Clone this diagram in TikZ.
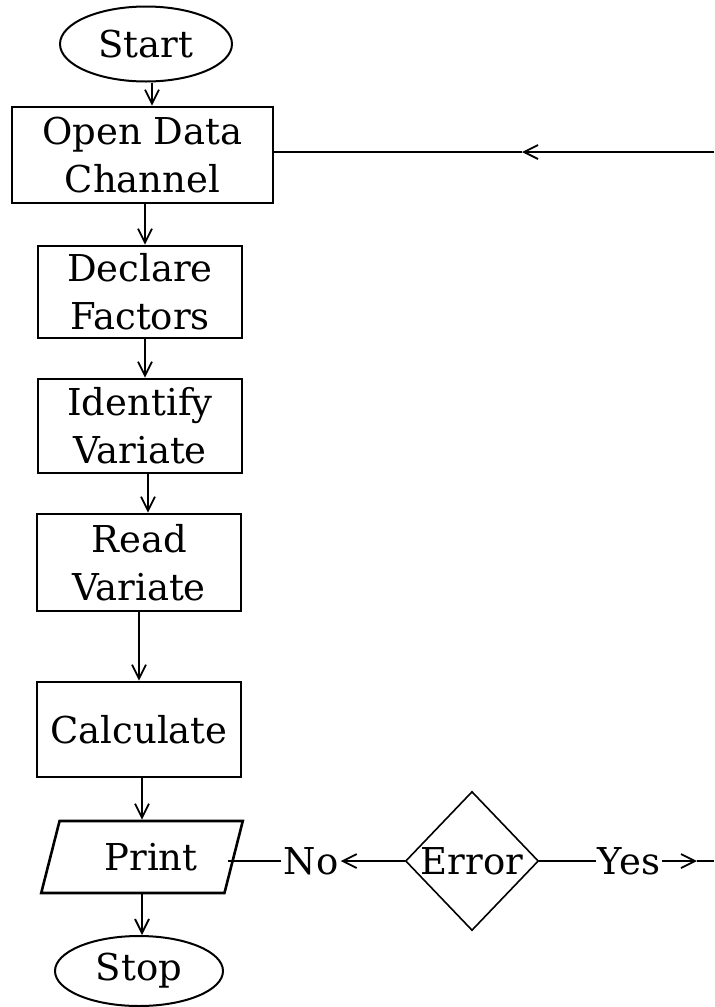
\documentclass[tikz,border=0pt]{standalone}
\usepackage{fontspec}
\setmainfont{DejaVu Serif}
\usetikzlibrary{shapes.geometric,arrows.meta}

\begin{document}
\begin{tikzpicture}[x=0.5pt,y=-0.5pt,
	>={Straight Barb[length=7pt,width=7pt]},
	txt/.style={font=\fontsize{18.5}{24}\selectfont,align=center},
	boxnode/.style={txt,draw,line width=1.3pt,inner sep=0pt},
	termnode/.style={txt,draw,ellipse,line width=1pt,inner sep=0pt},
	flow/.style={->,line width=0.9pt}]
	\useasboundingbox (0,0) rectangle (714,1007);

	% main column
	\node[termnode,minimum width=86pt,minimum height=37.5pt] (start) at (146,44) {Start};
	\node[boxnode,minimum width=130.5pt,minimum height=48pt] (open) at (142.5,155) {Open Data\\Channel};
	\node[boxnode,minimum width=102pt,minimum height=46pt] (declare) at (140,292) {Declare\\Factors};
	\node[boxnode,minimum width=102pt,minimum height=47pt] (identify) at (140,426) {Identify\\Variate};
	\node[boxnode,minimum width=102pt,minimum height=48.5pt] (read) at (139,562.5) {Read\\Variate};
	\node[boxnode,minimum width=102pt,minimum height=47.5pt] (calc) at (139,729.5) {Calculate};
	\node[txt,draw,trapezium,trapezium left angle=66,trapezium right angle=114,trapezium stretches=true,
		line width=1.3pt,inner sep=0pt,minimum width=101pt,minimum height=36pt] (print) at (142,857) {\hspace{9pt}Print};
	\node[termnode,minimum width=84pt,minimum height=35pt] (stop) at (139,971) {Stop};

	% decision
	\node[txt,draw,diamond,line width=0.8pt,inner sep=0pt,minimum width=66.5pt,minimum height=69.5pt] (error) at (472,861) {Error};
	\node[txt,inner sep=1pt] (no) at (311,861) {No};
	\node[txt,inner sep=1pt] (yes) at (629,861) {Yes};

	\draw[flow] (start.south -| 152,0) -- (open.north -| 152,0);
	\draw[flow] (open.south -| 145,0) -- (declare.north -| 145,0);
	\draw[flow] (declare.south -| 145,0) -- (identify.north -| 145,0);
	\draw[flow] (identify.south -| 148,0) -- (read.north -| 148,0);
	\draw[flow] (read.south -| 139,0) -- (calc.north -| 139,0);
	\draw[flow] (calc.south -| 142,0) -- (print.north -| 142,0);
	\draw[flow] (print.south -| 142,0) -- (stop.north -| 142,0);

	% return line
	\coordinate (back) at (714,152);
	\coordinate (backtip) at (522,152);
	\draw[flow] (back) -- (backtip);
	\draw[line width=0.9pt] (backtip) -- (open.east |- backtip);

	% branches
	\draw[flow] (error.west) -- (no.east |- error.west);
	\draw[line width=0.9pt] (no.west |- error.west) -- (228,861);
	\draw[line width=0.9pt] (error.east) -- (yes.west |- error.east);
	\coordinate (yestip) at (697,861);
	\coordinate (out) at (714,861);
	\draw[flow] (yes.east |- error.east) -- (yestip);
	\draw[line width=0.9pt] (yestip) -- (out);
\end{tikzpicture}
\end{document}
